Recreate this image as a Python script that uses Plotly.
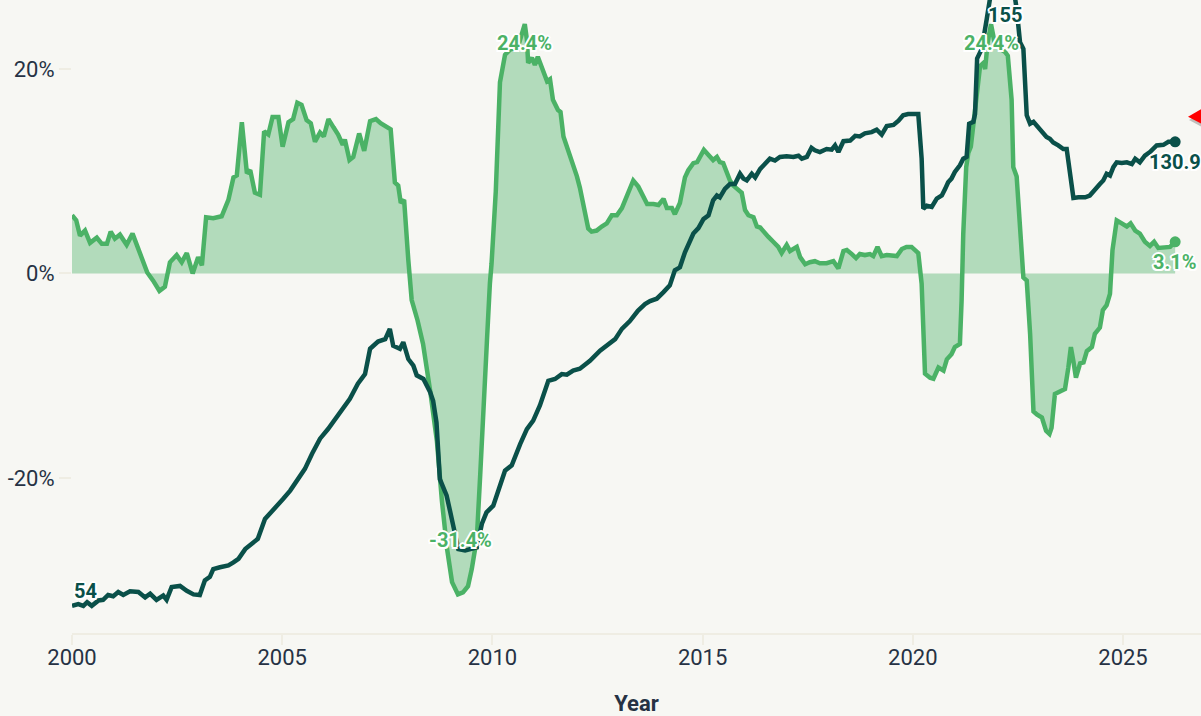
import plotly.graph_objects as go

# ---------------- data ----------------
# Year-over-year change (%) — green series
pct_years = [
    2000.00, 2000.10, 2000.19, 2000.31, 2000.43, 2000.59, 2000.71, 2000.83, 2000.92,
    2001.02, 2001.14, 2001.30, 2001.44, 2001.58, 2001.70, 2001.79, 2001.93,
    2002.08, 2002.21, 2002.33, 2002.49, 2002.61, 2002.73, 2002.87,
    2003.00, 2003.09, 2003.19, 2003.36, 2003.56, 2003.72, 2003.84, 2003.92,
    2004.04, 2004.16, 2004.24, 2004.35, 2004.47, 2004.57, 2004.67, 2004.77, 2004.91,
    2005.01, 2005.15, 2005.26, 2005.36, 2005.46, 2005.58, 2005.68, 2005.78, 2005.90, 2005.99,
    2006.10, 2006.22, 2006.33, 2006.44, 2006.49, 2006.60, 2006.69, 2006.83, 2006.95,
    2007.09, 2007.23, 2007.34, 2007.49, 2007.58, 2007.68, 2007.76, 2007.82, 2007.90,
    2008.00, 2008.08, 2008.22, 2008.35, 2008.52, 2008.68, 2008.80, 2008.92,
    2009.04, 2009.18, 2009.30, 2009.42, 2009.51, 2009.63, 2009.71, 2009.78, 2009.87, 2009.94,
    2009.98, 2010.08, 2010.15, 2010.18, 2010.30, 2010.42, 2010.61, 2010.70, 2010.77, 2010.82,
    2010.85, 2010.94, 2011.01, 2011.08, 2011.18, 2011.30, 2011.37, 2011.44, 2011.56, 2011.62,
    2011.69, 2011.85, 2012.01, 2012.08, 2012.16, 2012.28, 2012.36, 2012.48, 2012.60, 2012.72,
    2012.84, 2012.96, 2013.08, 2013.19, 2013.27, 2013.35, 2013.47, 2013.59, 2013.68, 2013.83,
    2013.95, 2014.07, 2014.15, 2014.27, 2014.34, 2014.46, 2014.58, 2014.66, 2014.78, 2014.87,
    2014.94, 2015.03, 2015.14, 2015.25, 2015.34, 2015.41, 2015.49, 2015.57, 2015.65, 2015.73,
    2015.81, 2015.93, 2016.01, 2016.09, 2016.21, 2016.29, 2016.37, 2016.44, 2016.56, 2016.68,
    2016.80, 2016.88, 2017.00, 2017.08, 2017.24, 2017.32, 2017.44, 2017.55, 2017.67, 2017.79,
    2017.95, 2018.11, 2018.23, 2018.35, 2018.43, 2018.55, 2018.65, 2018.74, 2018.86, 2018.98,
    2019.06, 2019.16, 2019.26, 2019.38, 2019.50, 2019.62, 2019.74, 2019.85, 2019.97,
    2020.08, 2020.13, 2020.21, 2020.25, 2020.29, 2020.41, 2020.49, 2020.61, 2020.73, 2020.81,
    2020.92, 2021.00, 2021.12, 2021.16, 2021.20, 2021.27, 2021.32, 2021.38, 2021.44, 2021.52,
    2021.60, 2021.68, 2021.72, 2021.78, 2021.86, 2021.95, 2022.07, 2022.19, 2022.26, 2022.35,
    2022.39, 2022.47, 2022.55, 2022.63, 2022.71, 2022.79, 2022.87, 2022.95, 2023.07, 2023.17,
    2023.25, 2023.30, 2023.38, 2023.50, 2023.62, 2023.70, 2023.76, 2023.82, 2023.88, 2023.98,
    2024.06, 2024.14, 2024.26, 2024.33, 2024.45, 2024.52, 2024.61, 2024.69, 2024.75, 2024.85,
    2024.97, 2025.09, 2025.18, 2025.29, 2025.40, 2025.52, 2025.64, 2025.74, 2025.84, 2026.00,
    2026.12, 2026.24,
]
pct_change = [
    5.7, 5.2, 3.7, 4.2, 3.0, 3.5, 2.9, 2.9, 4.1,
    3.4, 3.8, 2.8, 3.9, 2.3, 1.1, 0.1, -0.7,
    -1.7, -1.3, 1.1, 1.8, 1.1, 2.0, 0.0,
    1.6, 0.8, 5.5, 5.4, 5.6, 7.2, 9.4, 9.6,
    14.8, 9.8, 10.1, 7.9, 7.7, 13.9, 13.6, 15.3, 15.3,
    12.4, 14.8, 15.1, 16.7, 16.5, 15.0, 14.7, 12.9, 13.8, 13.4,
    15.1, 14.3, 13.6, 12.6, 13.1, 11.1, 11.4, 13.7, 12.0,
    14.9, 15.1, 14.7, 14.4, 14.1, 8.9, 8.6, 6.9, 7.2,
    1.3, -2.6, -4.6, -6.9, -11.5, -16.4, -22.3, -26.9,
    -30.2, -31.4, -31.2, -30.6, -28.9, -25.9, -19.7, -13.2, -6.6, -1.0,
    1.0, 8.0, 16.0, 18.7, 21.4, 21.9, 22.2, 23.5, 24.4, 22.9,
    20.6, 21.1, 20.4, 21.2, 20.2, 18.8, 19.0, 17.0, 16.0, 15.8,
    13.4, 11.6, 9.5, 8.4, 6.9, 4.4, 4.1, 4.2, 4.6, 4.9,
    5.7, 5.7, 6.4, 7.5, 8.2, 9.1, 8.5, 7.4, 6.8, 6.8,
    6.7, 7.3, 6.4, 6.4, 5.8, 6.9, 9.4, 10.1, 10.8, 10.9,
    11.4, 12.1, 11.6, 11.1, 11.4, 10.9, 10.8, 10.0, 9.1, 8.6,
    8.3, 7.9, 6.2, 5.7, 5.5, 4.6, 4.5, 4.1, 3.6, 3.1,
    2.6, 2.0, 2.8, 2.2, 2.6, 1.6, 0.9, 1.1, 1.2, 1.0,
    1.0, 1.2, 0.5, 2.2, 2.3, 1.9, 1.5, 1.9, 1.8, 1.9,
    1.7, 2.6, 1.7, 1.8, 1.8, 1.7, 2.4, 2.6, 2.6,
    2.1, 2.0, -1.0, -5.9, -9.8, -10.2, -10.3, -9.2, -9.5, -8.4,
    -7.9, -7.2, -6.9, -2.7, 3.9, 10.4, 11.8, 12.4, 14.4, 17.0,
    20.3, 20.6, 20.0, 22.6, 24.4, 22.5, 22.0, 21.7, 21.3, 17.0,
    10.4, 9.5, 3.9, -0.4, -0.7, -5.9, -13.5, -13.8, -14.1, -15.4,
    -15.7, -15.1, -11.8, -11.5, -11.3, -9.2, -7.2, -8.6, -10.2, -8.8,
    -8.7, -7.6, -7.2, -5.9, -5.3, -3.6, -3.1, -2.0, 2.3, 5.2,
    4.9, 4.6, 4.9, 4.2, 3.9, 3.1, 2.7, 3.1, 2.5, 2.5,
    2.6, 3.1,
]

# Index level — dark series
idx_years = [
    2000.00, 2000.15, 2000.27, 2000.36, 2000.47, 2000.63, 2000.74, 2000.86, 2000.98,
    2001.10, 2001.22, 2001.38, 2001.58, 2001.74, 2001.86, 2002.01, 2002.17, 2002.25,
    2002.37, 2002.57, 2002.73, 2002.89, 2003.04, 2003.16, 2003.28, 2003.36, 2003.52,
    2003.72, 2003.84, 2003.96, 2004.12, 2004.28, 2004.42, 2004.59, 2004.83, 2005.02,
    2005.19, 2005.38, 2005.54, 2005.71, 2005.90, 2006.09, 2006.26, 2006.42, 2006.61,
    2006.80, 2006.97, 2007.09, 2007.28, 2007.45, 2007.56, 2007.64, 2007.80, 2007.88,
    2008.00, 2008.12, 2008.20, 2008.36, 2008.52, 2008.59, 2008.67, 2008.75, 2008.91,
    2008.99, 2009.11, 2009.19, 2009.35, 2009.51, 2009.63, 2009.75, 2009.86, 2010.02,
    2010.10, 2010.22, 2010.30, 2010.46, 2010.54, 2010.66, 2010.82, 2010.97, 2011.13,
    2011.25, 2011.33, 2011.49, 2011.65, 2011.77, 2011.92, 2012.08, 2012.32, 2012.56,
    2012.75, 2012.92, 2013.08, 2013.27, 2013.46, 2013.63, 2013.75, 2013.91, 2014.07,
    2014.22, 2014.34, 2014.46, 2014.58, 2014.66, 2014.78, 2014.90, 2015.02, 2015.14,
    2015.25, 2015.34, 2015.41, 2015.53, 2015.65, 2015.77, 2015.89, 2015.97, 2016.05,
    2016.17, 2016.25, 2016.37, 2016.48, 2016.60, 2016.72, 2016.84, 2017.00, 2017.16,
    2017.28, 2017.36, 2017.48, 2017.59, 2017.67, 2017.79, 2017.95, 2018.07, 2018.15,
    2018.23, 2018.35, 2018.51, 2018.63, 2018.74, 2018.86, 2019.02, 2019.14, 2019.26,
    2019.38, 2019.54, 2019.66, 2019.77, 2019.89, 2020.01, 2020.13, 2020.21, 2020.25,
    2020.33, 2020.45, 2020.57, 2020.69, 2020.77, 2020.84, 2020.92, 2021.00, 2021.12,
    2021.20, 2021.28, 2021.34, 2021.44, 2021.48, 2021.53, 2021.60, 2021.64, 2021.76,
    2021.84, 2021.95, 2022.07, 2022.19, 2022.32, 2022.43, 2022.47, 2022.55, 2022.63,
    2022.71, 2022.79, 2022.87, 2022.99, 2023.10, 2023.18, 2023.26, 2023.34, 2023.46,
    2023.58, 2023.66, 2023.74, 2023.82, 2023.94, 2024.10, 2024.21, 2024.33, 2024.45,
    2024.53, 2024.61, 2024.69, 2024.77, 2024.85, 2024.97, 2025.09, 2025.21, 2025.29,
    2025.40, 2025.52, 2025.64, 2025.80, 2025.96, 2026.08, 2026.24,
]
idx_value = [
    54.0, 54.3, 54.0, 54.6, 54.0, 54.9, 55.0, 55.8, 55.6,
    56.3, 55.8, 56.4, 56.3, 55.4, 56.0, 55.0, 55.7, 55.0,
    57.1, 57.3, 56.5, 55.9, 55.8, 58.2, 58.8, 60.1, 60.4,
    60.7, 61.2, 61.8, 63.4, 64.3, 65.1, 68.4, 70.1, 71.7,
    73.1, 75.0, 76.7, 79.2, 81.7, 83.3, 85.0, 86.6, 88.3,
    90.8, 92.4, 96.6, 97.8, 98.2, 99.9, 97.1, 96.6, 97.7,
    94.9, 93.8, 92.2, 91.6, 89.4, 88.0, 84.4, 75.0, 72.3,
    69.8, 66.2, 63.4, 63.2, 63.6, 63.7, 67.6, 69.5, 70.6,
    72.3, 74.5, 76.4, 77.3, 78.9, 80.8, 83.3, 84.7, 87.2,
    89.7, 91.3, 91.6, 92.4, 92.3, 93.0, 93.3, 94.6, 96.3,
    97.4, 98.2, 99.9, 101.2, 102.9, 104.0, 104.5, 104.9, 106.0,
    107.1, 109.6, 110.1, 112.6, 114.0, 115.7, 116.6, 118.1, 118.7,
    121.2, 122.0, 121.7, 123.1, 123.9, 123.9, 125.6, 124.8, 124.5,
    125.6, 125.0, 126.4, 127.3, 128.1, 127.8, 128.4, 128.5, 128.4,
    128.6, 128.1, 128.4, 129.9, 129.5, 129.2, 129.7, 129.6, 130.3,
    129.2, 131.0, 131.1, 131.9, 131.8, 132.3, 132.5, 132.9, 132.1,
    133.5, 133.7, 134.4, 135.3, 135.5, 135.5, 135.5, 128.1, 119.8,
    120.3, 120.1, 121.5, 122.0, 123.1, 124.2, 124.8, 125.9, 127.0,
    128.1, 128.4, 133.9, 134.2, 135.5, 144.7, 145.8, 146.3, 151.3,
    154.8, 154.9, 154.9, 155.0, 154.9, 154.8, 152.9, 147.4, 146.3,
    135.3, 133.9, 134.2, 133.3, 132.5, 131.7, 131.4, 130.8, 130.3,
    129.7, 129.7, 125.9, 121.6, 121.7, 121.7, 122.0, 123.1, 123.9,
    124.5, 125.6, 125.3, 126.7, 127.5, 127.4, 127.5, 127.2, 128.1,
    127.5, 128.6, 129.2, 130.3, 130.4, 130.9, 130.9,
]

x_tick_vals = [2000, 2005, 2010, 2015, 2020, 2025]
x_tick_text = ["2000", "2005", "2010", "2015", "2020", "2025"]
y_tick_vals = [-20, 0, 20]
y_tick_text = ["-20%", "0%", "20%"]

# ---------------- style ----------------
BG = "#f7f7f3"
GREEN = "#4bb266"
FILL = "rgba(75,178,102,0.40)"
DARK = "#0a5049"
AXIS = "#efede3"
TXT = "#263244"
FONT = "Roboto"
HALO = ("2px 0 0 #fff, -2px 0 0 #fff, 0 2px 0 #fff, 0 -2px 0 #fff, "
        "1.5px 1.5px 0 #fff, -1.5px -1.5px 0 #fff, 1.5px -1.5px 0 #fff, -1.5px 1.5px 0 #fff")

W, H, ML, MB = 1201, 716, 72, 83
PW, PH = W - ML, H - MB
Y1_RANGE = [-35.18, 26.76]
Y2_RANGE = [49.5, 154.4]
PX_PER_Y2 = PH / (Y2_RANGE[1] - Y2_RANGE[0])

fig = go.Figure()
fig.add_trace(go.Scatter(x=pct_years, y=pct_change, mode="lines",
                         line=dict(color=GREEN, width=4.5), fill="tozeroy",
                         fillcolor=FILL, yaxis="y", hoverinfo="skip"))
fig.add_trace(go.Scatter(x=[pct_years[-1]], y=[pct_change[-1]], mode="markers",
                         marker=dict(color=GREEN, size=11), yaxis="y", hoverinfo="skip"))
fig.add_trace(go.Scatter(x=idx_years, y=idx_value, mode="lines",
                         line=dict(color=DARK, width=4.5), yaxis="y2", hoverinfo="skip"))
fig.add_trace(go.Scatter(x=[idx_years[-1]], y=[idx_value[-1]], mode="markers",
                         marker=dict(color=DARK, size=11), yaxis="y2", hoverinfo="skip"))


def fmt(v):
    return format(round(v, 1), "g")


annotations = []


def label(x, y, text, color, yref, xshift=0, yshift=0):
    annotations.append(dict(x=x, y=y, xref="x", yref=yref, text=text, showarrow=False,
                            xanchor="center", yanchor="middle", xshift=xshift, yshift=yshift,
                            font=dict(family=FONT, size=20, color=color, weight=700,
                                      shadow=HALO)))


# green labels: two maxima (before / after 2015), minimum, last
split = next(i for i, y in enumerate(pct_years) if y >= 2015)
i_max1 = max(range(split), key=lambda i: pct_change[i])
i_max2 = max(range(split, len(pct_change)), key=lambda i: pct_change[i])
i_min = min(range(len(pct_change)), key=lambda i: pct_change[i])
label(pct_years[i_max1], pct_change[i_max1], fmt(pct_change[i_max1]) + "%", GREEN, "y", yshift=-19)
label(pct_years[i_max2], pct_change[i_max2], fmt(pct_change[i_max2]) + "%", GREEN, "y", yshift=-19)
label(pct_years[i_min], pct_change[i_min], fmt(pct_change[i_min]) + "%", GREEN, "y", xshift=3, yshift=54)
label(pct_years[-1], pct_change[-1], fmt(pct_change[-1]) + "%", GREEN, "y", yshift=-20)

# dark labels: first, max (anchored inside the visible range), last
j_max = max(range(len(idx_value)), key=lambda i: idx_value[i])
max_anchor = min(idx_value[j_max], Y2_RANGE[1])
label(idx_years[0], idx_value[0], fmt(idx_value[0]), DARK, "y2", xshift=13, yshift=15)
label(idx_years[j_max], max_anchor, fmt(idx_value[j_max]), DARK, "y2",
      yshift=-19 + (idx_value[j_max] - max_anchor) * PX_PER_Y2)
label(idx_years[-1], idx_value[-1], fmt(idx_value[-1]), DARK, "y2", yshift=-20)


# red pointer at the right edge (partly outside the view)
def px(xp, yp):
    return (xp - ML) / PW, (PH - yp) / PH


def tri(pts):
    p = [px(a, b) for a, b in pts]
    return "M{},{} L{},{} L{},{} Z".format(p[0][0], p[0][1], p[1][0], p[1][1], p[2][0], p[2][1])


shapes = [
    dict(type="path", xref="paper", yref="paper", layer="above",
         path=tri([(1189, 120), (1215, 105), (1215, 134)]),
         fillcolor="rgba(0,0,0,0.22)", line=dict(width=0)),
    dict(type="path", xref="paper", yref="paper", layer="above",
         path=tri([(1188, 116.7), (1215, 101), (1215, 131)]),
         fillcolor="#ff0000", line=dict(width=0)),
]

fig.update_layout(
    width=W, height=H,
    margin=dict(l=ML, r=0, t=0, b=MB),
    paper_bgcolor=BG, plot_bgcolor=BG,
    showlegend=False,
    font=dict(family=FONT, size=22, color=TXT),
    annotations=annotations,
    shapes=shapes,
    xaxis=dict(range=[2000, 2026.855], tickvals=x_tick_vals, ticktext=x_tick_text,
               showgrid=False, zeroline=False, showline=True, linecolor=AXIS, linewidth=2,
               ticks="outside", ticklen=10, tickwidth=2, tickcolor=AXIS,
               ticklabelstandoff=-6,
               tickfont=dict(family=FONT, size=22, color=TXT), automargin=False,
               title=dict(text="Year", standoff=26,
                          font=dict(family=FONT, size=22, color=TXT, weight=700))),
    yaxis=dict(range=Y1_RANGE, tickvals=y_tick_vals, ticktext=y_tick_text,
               showgrid=False, zeroline=False, showline=False,
               ticks="outside", ticklen=12, tickwidth=2, tickcolor=AXIS,
               tickfont=dict(family=FONT, size=22, color=TXT), automargin=False),
    yaxis2=dict(range=Y2_RANGE, overlaying="y", visible=False),
)

fig.write_html("out.html", config={"displayModeBar": False},
               post_script="document.body.style.margin='0';document.body.style.overflow='hidden';")
